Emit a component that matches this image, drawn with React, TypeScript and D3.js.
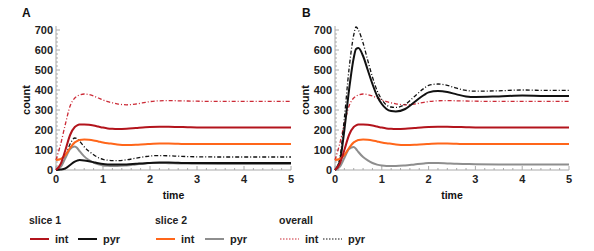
import React from "react";
import * as d3 from "d3";

// time grid shared by every series
const times = [0, 0.1, 0.2, 0.3, 0.4, 0.45, 0.5, 0.6, 0.7, 0.8, 0.9, 1.0, 1.1, 1.2, 1.3, 1.5, 1.7, 1.9, 2.0, 2.2, 2.4, 2.6, 2.8, 3.0, 3.5, 4.0, 4.5, 5.0];

// panel A and B share the interneuron series
const slice1Int = [0, 30, 100, 175, 215, 223, 227, 228, 226, 222, 217, 212, 208, 206, 205, 206, 210, 214, 215, 216, 216, 215, 214, 213, 213, 213, 213, 213];
const slice2Int = [50, 55, 75, 110, 138, 145, 150, 152, 151, 148, 143, 138, 134, 131, 128, 125, 126, 129, 130, 132, 132, 131, 130, 130, 130, 130, 130, 130];
const overallInt = [50, 130, 230, 320, 360, 370, 375, 380, 377, 370, 360, 350, 342, 336, 331, 326, 330, 338, 342, 346, 347, 346, 345, 344, 343, 343, 343, 343];

// panel A pyramidal
const slice1PyrA = [0, 2, 8, 25, 42, 47, 50, 48, 44, 39, 34, 30, 28, 27, 27, 28, 31, 34, 35, 37, 37, 36, 35, 35, 35, 35, 35, 35];
const slice2PyrA = [0, 15, 60, 105, 118, 110, 95, 68, 50, 37, 28, 23, 21, 20, 20, 23, 28, 33, 35, 35, 34, 33, 32, 31, 30, 30, 30, 30];
const overallPyrA = [0, 17, 68, 130, 160, 157, 145, 116, 94, 76, 62, 53, 49, 47, 47, 51, 59, 67, 70, 72, 71, 69, 67, 66, 65, 65, 65, 65];

// panel B pyramidal
const slice1PyrB = [0, 40, 200, 400, 560, 605, 610, 570, 500, 430, 370, 330, 305, 295, 293, 305, 340, 375, 388, 395, 390, 378, 368, 365, 368, 372, 370, 370];
const slice2PyrB = [0, 15, 60, 105, 115, 105, 90, 65, 48, 35, 27, 22, 20, 20, 20, 23, 28, 33, 35, 35, 33, 31, 30, 29, 28, 28, 28, 28];
const overallPyrB = [0, 55, 260, 505, 675, 715, 700, 635, 548, 465, 397, 352, 325, 315, 313, 328, 368, 408, 423, 430, 423, 409, 398, 394, 396, 400, 398, 398];

const xTicks = [0, 1, 2, 3, 4, 5];
const yTicks = [0, 100, 200, 300, 400, 500, 600, 700];

const C = {
  s1Int: "#b3141c",
  s1Pyr: "#111111",
  s2Int: "#ff661a",
  s2Pyr: "#8e8e8e",
  allInt: "#cc2a36",
  allPyr: "#111111",
};

const W = 594;
const H = 251;
const FONT = "'Liberation Sans', Arial, sans-serif";
const yTop = 30;
const yBot = 170;

const Panel = ({ x0, x1, label, labelX, countX, series }) => {
  const x = d3.scaleLinear().domain([0, 5]).range([x0, x1]);
  const y = d3.scaleLinear().domain([0, 700]).range([yBot, yTop]);
  const line = d3
    .line<number>()
    .x((_, i) => x(times[i]))
    .y((d) => y(d))
    .curve(d3.curveMonotoneX);
  const minorX = d3.range(0, 5.001, 0.2);
  const minorY = d3.range(0, 701, 20);
  return (
    <g>
      <text x={labelX} y={17} fontSize={12} fontWeight="bold" fill="#111">{label}</text>
      <text transform={`translate(${countX},${(yTop + yBot) / 2}) rotate(-90)`} textAnchor="middle" dy="0.35em" fontSize={11} fontWeight="bold" fill="#111">count</text>
      <text x={(x0 + x1) / 2} y={199} textAnchor="middle" fontSize={10.5} fontWeight="bold" fill="#111">time</text>
      <line x1={x0} x2={x0} y1={yTop - 4} y2={yBot} stroke="#aaa" />
      <line x1={x0} x2={x1} y1={yBot} y2={yBot} stroke="#aaa" />
      {minorY.map((v) => (
        <line key={"my" + v} x1={x0} x2={x0 + (v % 100 === 0 ? 4 : 2)} y1={y(v)} y2={y(v)} stroke="#aaa" />
      ))}
      {minorX.map((v) => (
        <line key={"mx" + v} x1={x(v)} x2={x(v)} y1={yBot} y2={yBot - (Math.abs(v - Math.round(v)) < 1e-6 ? 4 : 2)} stroke="#aaa" />
      ))}
      {yTicks.map((v) => (
        <text key={"y" + v} x={x0 - 3} y={y(v)} dy="0.35em" textAnchor="end" fontSize={11} fontWeight="bold" fill="#222">{v}</text>
      ))}
      {xTicks.map((v) => (
        <text key={"x" + v} x={x(v)} y={183} textAnchor="middle" fontSize={11} fontWeight="bold" fill="#222">{v}</text>
      ))}
      {series.map((s, i) => (
        <path key={i} d={line(s.data)} fill="none" stroke={s.color} strokeWidth={s.dash ? 1.3 : 2} strokeDasharray={s.dash || null} />
      ))}
    </g>
  );
};

const DASH = "4,2,1,2";

const LegendItem = ({ x, color, dash, text }) => (
  <g>
    <line x1={x} x2={x + 19} y1={239} y2={239} stroke={color} strokeWidth={dash ? 1.2 : 2} strokeDasharray={dash || null} />
    <text x={x + 25} y={243} fontSize={11} fontWeight="bold" fill="#222">{text}</text>
  </g>
);

export default function App() {
  const seriesA = [
    { data: overallInt, color: C.allInt, dash: DASH },
    { data: overallPyrA, color: C.allPyr, dash: DASH },
    { data: slice2PyrA, color: C.s2Pyr },
    { data: slice1PyrA, color: C.s1Pyr },
    { data: slice2Int, color: C.s2Int },
    { data: slice1Int, color: C.s1Int },
  ];
  const seriesB = [
    { data: overallInt, color: C.allInt, dash: DASH },
    { data: overallPyrB, color: C.allPyr, dash: DASH },
    { data: slice2PyrB, color: C.s2Pyr },
    { data: slice1PyrB, color: C.s1Pyr },
    { data: slice2Int, color: C.s2Int },
    { data: slice1Int, color: C.s1Int },
  ];
  return (
    <svg width={W} height={H} fontFamily={FONT} style={{ position: "absolute", left: 0, top: 0 }}>
      <rect width={W} height={H} fill="#fff" />
      <Panel x0={56} x1={291} label="A" labelX={22} countX={26} series={seriesA} />
      <Panel x0={335} x1={569} label="B" labelX={302} countX={305} series={seriesB} />
      <text x={29} y={224} fontSize={10.5} fontWeight="bold" fill="#222">slice 1</text>
      <LegendItem x={30} color={C.s1Int} text="int" />
      <LegendItem x={78} color={C.s1Pyr} text="pyr" />
      <text x={155} y={224} fontSize={10.5} fontWeight="bold" fill="#222">slice 2</text>
      <LegendItem x={156} color={C.s2Int} text="int" />
      <LegendItem x={205} color={C.s2Pyr} text="pyr" />
      <text x={279} y={224} fontSize={10.5} fontWeight="bold" fill="#222">overall</text>
      <LegendItem x={280} color={C.allInt} dash="1.5,1.5" text="int" />
      <LegendItem x={323} color={C.allPyr} dash="1.5,1.5" text="pyr" />
    </svg>
  );
}
